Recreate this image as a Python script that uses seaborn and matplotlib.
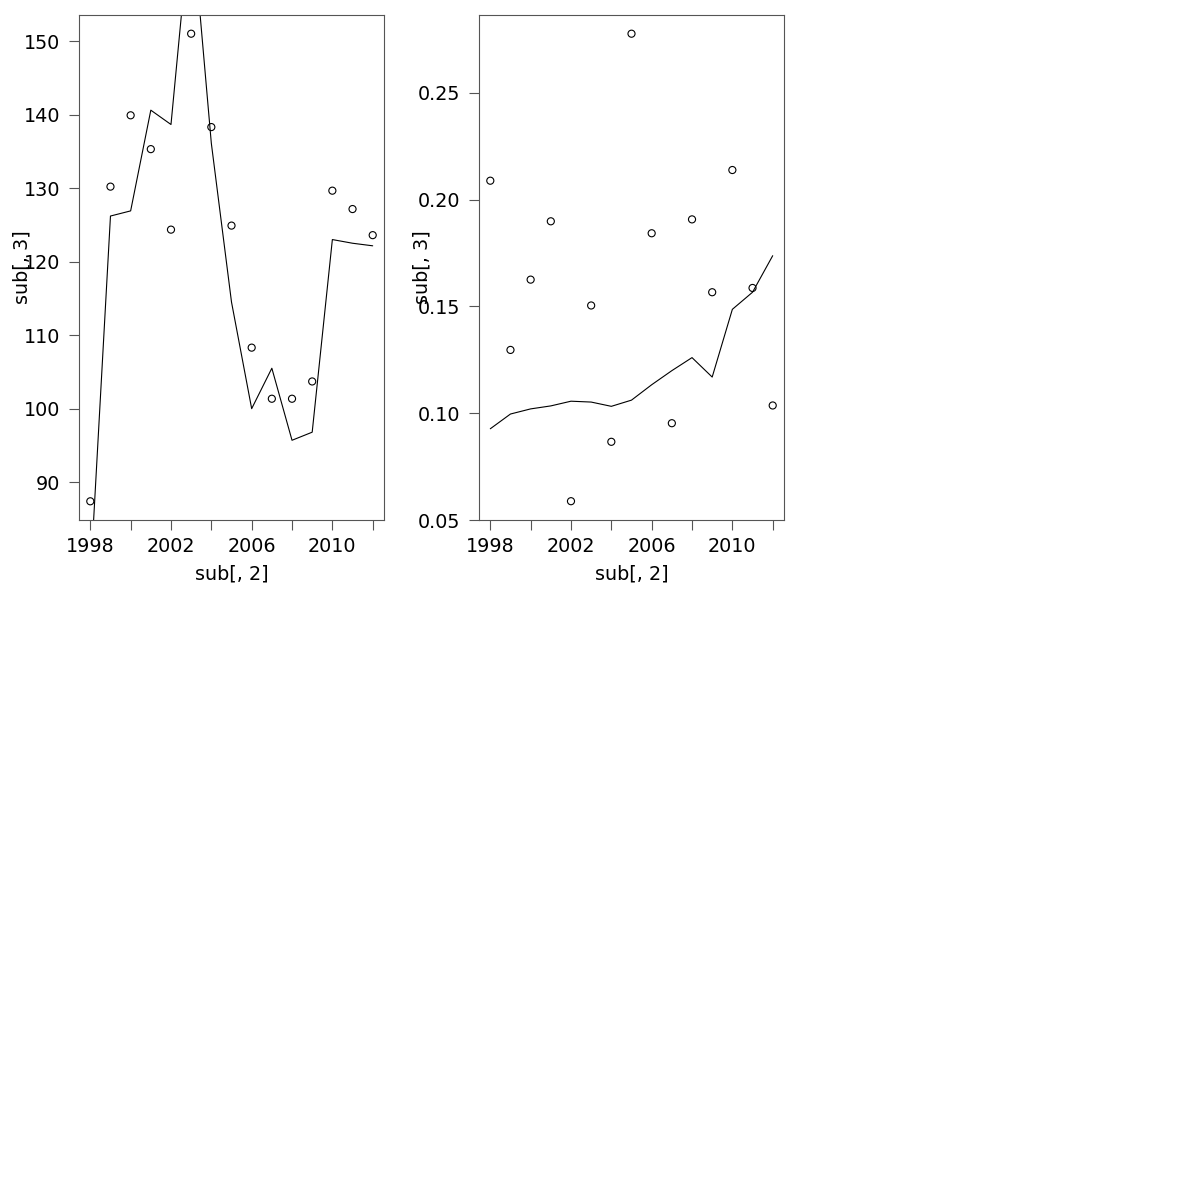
import numpy as np
import seaborn as sns
import matplotlib
matplotlib.use("Agg")
import matplotlib.pyplot as plt

sns.set_style("white")
plt.rcParams['font.family'] = ['DejaVu Sans']
plt.rcParams['axes.labelcolor'] = 'black'
plt.rcParams['text.color'] = 'black'

years = list(range(1998, 2013))

# panel 1: observed points and fitted line
obs1 = [87.4, 130.2, 139.9, 135.3, 124.35, 151.0, 138.3, 124.9, 108.3,
        101.35, 101.35, 103.7, 129.65, 127.15, 123.6]
fit1 = [76.7, 126.2, 126.9, 140.6, 138.65, 167.5, 136.1, 114.5, 100.0,
        105.5, 95.7, 96.8, 123.0, 122.5, 122.15]

# panel 2
obs2 = [0.2088, 0.1296, 0.1625, 0.1898, 0.0588, 0.1504, 0.0866, 0.2776,
        0.1842, 0.0953, 0.1907, 0.1566, 0.2138, 0.1586, 0.1036]
fit2 = [0.0927, 0.0996, 0.1020, 0.1034, 0.1056, 0.1052, 0.1032, 0.1061,
        0.1133, 0.1199, 0.1260, 0.1169, 0.1486, 0.1566, 0.1737]

xticks = list(range(1998, 2013, 2))
xticklabels = ['1998', '', '2002', '', '2006', '', '2010', '']
yticks1 = [90, 100, 110, 120, 130, 140, 150]
yticks2 = [0.05, 0.10, 0.15, 0.20, 0.25]

fig = plt.figure(figsize=(12, 12), dpi=100)
W = 1200.0


def panel(left_px, obs, fit, yticks, yfmt):
    ax = fig.add_axes([left_px / W, (1200 - 520) / W, 305 / W, 505 / W])
    sns.lineplot(x=years, y=fit, ax=ax, color='black', linewidth=0.8)
    sns.scatterplot(x=years, y=obs, ax=ax, marker='o', s=26,
                    facecolors='none', edgecolor='black', linewidth=0.8)
    lo, hi = min(obs), max(obs)
    pad = (hi - lo) * 0.04
    ax.set_ylim(lo - pad, hi + pad)
    ax.set_xlim(1998 - 0.56, 2012 + 0.56)
    ax.set_xticks(xticks)
    ax.set_xticklabels(xticklabels)
    ax.set_yticks(yticks)
    ax.set_yticklabels([yfmt.format(v) for v in yticks])
    for s in ax.spines.values():
        s.set_color('#555555')
        s.set_linewidth(0.8)
    ax.tick_params(axis='both', direction='out', length=7, width=0.8,
                   color='#555555', labelcolor='black', labelsize=13.8,
                   bottom=True, left=True)
    ax.tick_params(axis='x', pad=5)
    ax.tick_params(axis='y', pad=6.5)
    ax.set_xlabel('sub[, 2]', fontsize=13.8, color='black')
    ax.set_ylabel('sub[, 3]', fontsize=13.8, color='black')
    ax.xaxis.set_label_coords(0.5, -0.107)
    ax.xaxis.label.set_va('center')
    ax.yaxis.set_label_coords(-0.187, 0.5)
    ax.yaxis.label.set_va('center')
    ax.grid(False)
    return ax


panel(79, obs1, fit1, yticks1, '{:.0f}')
panel(479, obs2, fit2, yticks2, '{:.2f}')

fig.savefig('out.png', dpi=100, facecolor='white')
